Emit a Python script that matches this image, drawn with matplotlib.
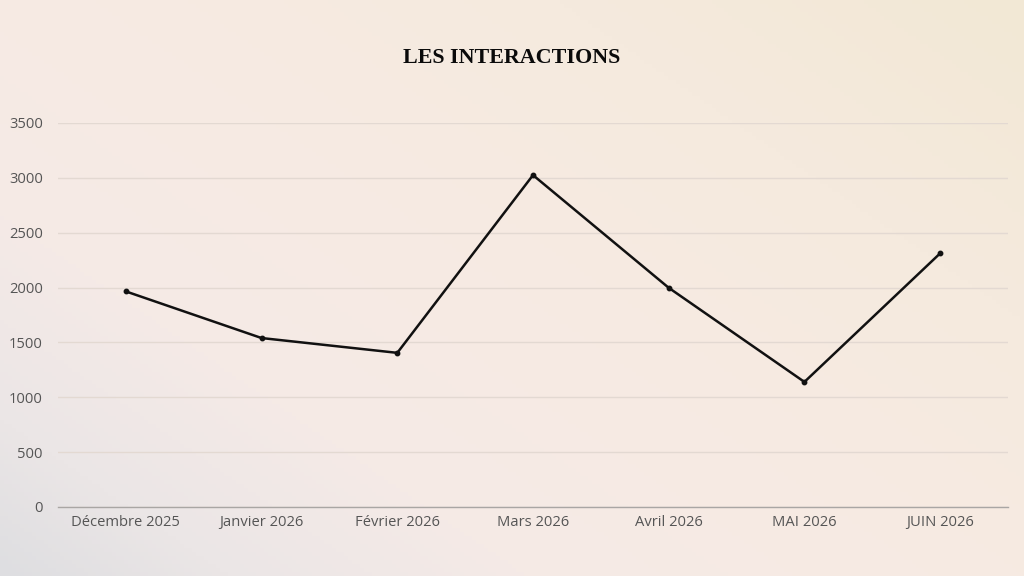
import numpy as np
import matplotlib
matplotlib.use("Agg")
import matplotlib.pyplot as plt
from matplotlib.colors import LinearSegmentedColormap

categories = ["Décembre 2025", "Janvier 2026", "Février 2026", "Mars 2026",
              "Avril 2026", "MAI 2026", "JUIN 2026"]
values = [1965, 1540, 1405, 3025, 1998, 1140, 2312]
yticks = [0, 500, 1000, 1500, 2000, 2500, 3000, 3500]
title = "LES INTERACTIONS"

W, H = 1024, 576
fig = plt.figure(figsize=(W / 100, H / 100), dpi=100)

# background gradient
bg = fig.add_axes([0, 0, 1, 1], zorder=-10)
xx, yy = np.meshgrid(np.linspace(0, 1, 256), np.linspace(0, 1, 144))
t = (xx * 0.55 + yy * 0.45)  # yy=0 bottom
cmap = LinearSegmentedColormap.from_list(
    "bg", [(0.0, "#dedee1"), (0.12, "#ebe6e6"), (0.28, "#f5eae6"), (0.5, "#f7ebe3"),
           (0.75, "#f5eade"), (1.0, "#f2e8d5")])
bg.imshow(t, cmap=cmap, origin="lower", aspect="auto", extent=[0, 1, 0, 1], vmin=0, vmax=1)
bg.axis("off")

ax = fig.add_axes([58 / W, 1 - 507 / H, (1008 - 58) / W, (507 - 123) / H])
ax.patch.set_alpha(0)
x = np.arange(len(categories))
ax.plot(x, values, color="#111111", lw=1.8, marker="o", markersize=3.2, zorder=3)
ax.set_xlim(-0.5, len(categories) - 0.5)
ax.set_ylim(0, 3500)
ax.set_yticks(yticks)
ax.set_xticks(x)
ax.set_xticklabels(categories)
for s in ["top", "right", "left"]:
    ax.spines[s].set_visible(False)
ax.spines["bottom"].set_color("#a9a6a4")
ax.spines["bottom"].set_linewidth(1.0)
ax.grid(axis="y", color="#e3d9d2", lw=1.0)
ax.set_axisbelow(True)
ax.tick_params(axis="both", length=0, labelsize=10.6, colors="#555555")
ax.tick_params(axis="y", pad=11)
ax.tick_params(axis="x", pad=6)
for lbl in ax.get_xticklabels() + ax.get_yticklabels():
    lbl.set_fontfamily("Open Sans")
    lbl.set_color("#555555")

fig.text(512 / W, 1 - 58 / H, title, ha="center", va="center",
         fontsize=15.8, fontweight="bold", family="Liberation Serif", color="#0a0a0a")

fig.savefig("out.png", dpi=100)
